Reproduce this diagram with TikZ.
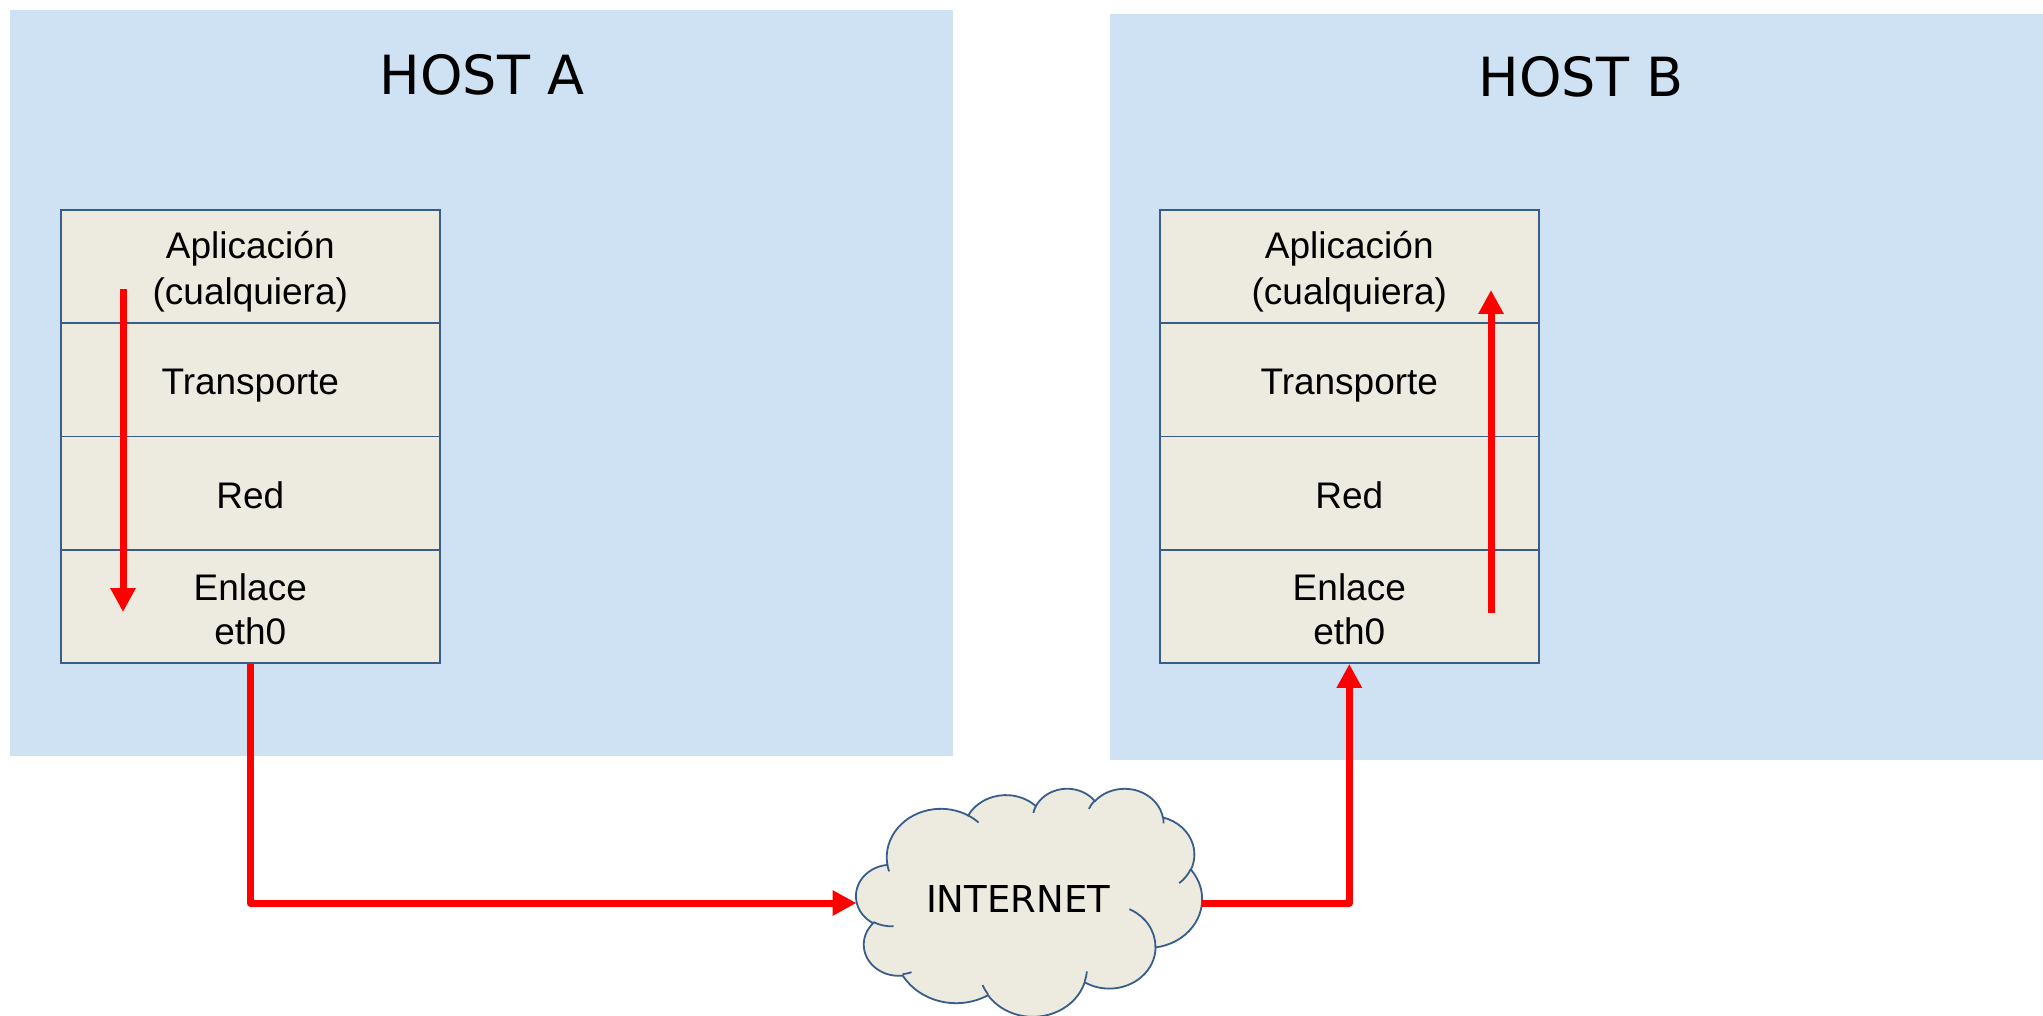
\documentclass[tikz,border=0pt]{standalone}
\usepackage{fontspec}
\setmainfont{Liberation Sans}
\newfontfamily\dejavu{DejaVu Sans}
\usetikzlibrary{arrows.meta}
\definecolor{hostbg}{HTML}{CFE2F3}
\definecolor{layerbg}{HTML}{EDEBE0}
\definecolor{layerline}{HTML}{385D8A}
\newcommand\lstrut{\rule[-6.2pt]{0pt}{44pt}}
% elliptical arc given OOXML-style: x radius, y radius, start angle, sweep (visual angles)
\newcommand\cldarc[4]{arc[x radius=#1, y radius=#2,
  start angle={atan2(#1*sin(#3),#2*cos(#3))},
  delta angle={mod(atan2(#1*sin(#3+#4),#2*cos(#3+#4))-atan2(#1*sin(#3),#2*cos(#3))+720,360)}]}
\begin{document}
\begin{tikzpicture}[x=1pt,y=-1pt,
  host/.style={fill=hostbg, draw=none, anchor=north west, inner sep=0pt, outer sep=0pt},
  layer/.style={draw=layerline, line width=1.6pt, fill=layerbg, minimum width=379pt, minimum height=113.3pt, inner sep=0pt, align=center, font=\fontsize{37}{44}\selectfont, anchor=north west},
  flow/.style={draw=red, line width=7pt, line join=round, -{Triangle[width=24pt,length=24pt]}},
  title/.style={font=\dejavu\fontsize{54}{60}\selectfont, anchor=base, inner sep=0pt},
  cloudline/.style={draw=layerline, line width=1.8pt}]
\useasboundingbox (0,0) rectangle (2043,1016);
% hosts
\node[host, minimum width=943pt, minimum height=746pt] (hostA) at (10,10) {};
\node[host, minimum width=933pt, minimum height=746pt] (hostB) at (1110,14) {};
\node[title] (titleA) at (482,95) {HOST A};
\node[title] (titleB) at (1581,97) {HOST B};
% stack A
\node[layer] (a1) at (60,209) {\lstrut Aplicación\\\lstrut(cualquiera)};
\node[layer] (a2) at (60,322.3) {\lstrut Transporte};
\node[layer] (a3) at (60,435.7) {\lstrut Red};
\node[layer] (a4) at (60,549) {\lstrut Enlace\\\lstrut eth0};
% stack B
\node[layer] (b1) at (1159,209) {\lstrut Aplicación\\\lstrut(cualquiera)};
\node[layer] (b2) at (1159,322.3) {\lstrut Transporte};
\node[layer] (b3) at (1159,435.7) {\lstrut Red};
\node[layer] (b4) at (1159,549) {\lstrut Enlace\\\lstrut eth0};
% cloud
\begin{scope}[shift={(856pt,-788pt)}, x=0.080093pt, y=-0.052778pt]
\filldraw[cloudline, fill=layerbg] (390,1437)
  \cldarc{675.3}{919.0}{-190.4875}{123.7805}
  \cldarc{533.3}{726.7}{-144.1024}{89.9452}
  \cldarc{436.5}{594.5}{-145.8079}{99.7230}
  \cldarc{485.7}{659.5}{-130.9861}{117.2417}
  \cldarc{533.3}{727.3}{-78.7089}{109.0269}
  \cldarc{677.5}{922.0}{-46.2673}{130.2690}
  \cldarc{578.5}{786.7}{0.6250}{114.0333}
  \cldarc{675.2}{921.5}{22.4516}{115.1726}
  \cldarc{772.0}{1054.3}{66.2426}{75.2235}
  \cldarc{436.0}{591.8}{-274.9421}{146.7356}
  \cldarc{434.5}{594.5}{-246.8285}{152.5189}
  -- cycle;
\draw[cloudline]
  (469.3,2617.7) \cldarc{434.5}{594.5}{86.742}{26.4295}
  (692.8,3489.9) \cldarc{436.0}{591.8}{73.6105}{11.4475}
  (1647.8,3909.0) \cldarc{675.2}{921.5}{137.6242}{14.0811}
  (2882.7,3475.1) \cldarc{675.2}{921.5}{6.4533}{15.9984}
  (3412.9,2295.4) \cldarc{578.5}{786.7}{-70.2924}{70.9174}
  (4179.8,1535.4) \cldarc{533.3}{727.3}{30.3180}{27.7515}
  (3832.4,542.6) \cldarc{485.7}{659.5}{-13.7443}{14.8589}
  (2907.8,395.2) \cldarc{485.7}{659.5}{-149.1815}{18.1954}
  (2214.1,472.0) \cldarc{436.5}{594.5}{-163.4943}{17.6864}
  (1400.0,519.2) \cldarc{675.3}{919.0}{-66.7070}{12.3194}
  (412.7,1578.9) \cldarc{675.3}{919.0}{157.6544}{11.8582};
\end{scope}
\node[font=\dejavu\fontsize{37}{43}\selectfont, inner sep=0pt] (internet) at (1018,899) {INTERNET};
\coordinate (cloudW) at (856.5,903);
\coordinate (cloudE) at (1202,903);
% internal arrows
\coordinate (aS) at (123,289);
\coordinate (aE) at (123,612);
\coordinate (bS) at (1491,613);
\coordinate (bE) at (1491,290);
\draw[flow] (aS) -- (aE);
\draw[flow] (bS) -- (bE);
% connectors
\draw[flow] (a4.south) |- (cloudW);
\draw[flow] (cloudE) -| (b4.south);
\end{tikzpicture}
\end{document}
